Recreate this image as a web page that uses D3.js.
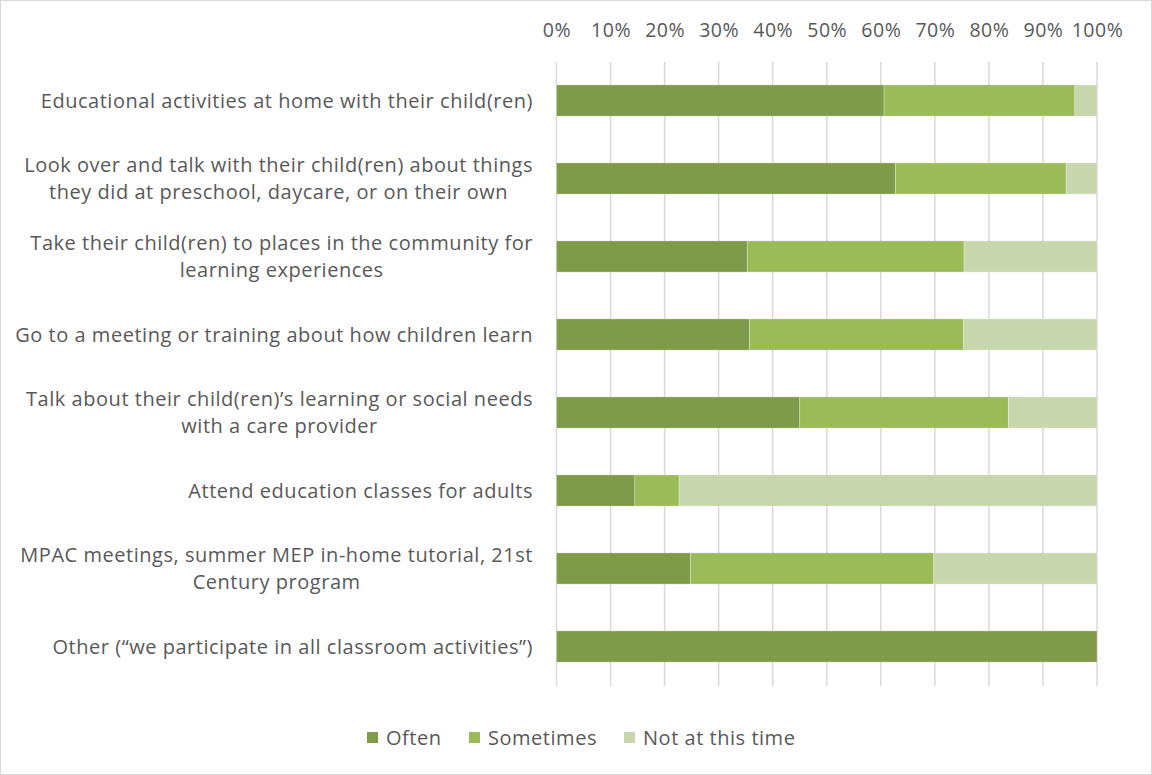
<!DOCTYPE html>
<html>
<head>
<meta charset="utf-8">
<script src="https://cdn.jsdelivr.net/npm/d3@7"></script>
<style>
  html, body { margin: 0; padding: 0; background: #fff; }
  svg text { font-family: "Open Sans", Lato, sans-serif; fill: #595959; letter-spacing: 0.53px; }
</style>
</head>
<body>
<svg id="chart" width="1152" height="775"></svg>
<script>
// Activity categories (each entry holds the label lines)
const categories = [
  ["Educational activities at home with their child(ren)"],
  ["Look over and talk with their child(ren) about things", "they did at preschool, daycare, or on their own"],
  ["Take their child(ren) to places in the community for", "learning experiences"],
  ["Go to a meeting or training about how children learn"],
  ["Talk about their child(ren)\u2019s learning or social needs", "with a care provider"],
  ["Attend education classes for adults"],
  ["MPAC meetings, summer MEP in-home tutorial, 21st", "Century program"],
  ["Other (\u201cwe participate in all classroom activities\u201d)"]
];

// Share of respondents (%) per response
const often     = [60.6, 62.7, 35.3, 35.7, 45.0, 14.5, 24.8, 100];
const sometimes = [35.3, 31.6, 40.1, 39.6, 38.6,  8.2, 45.0,   0];
const notNow    = [ 4.1,  5.7, 24.6, 24.7, 16.4, 77.3, 30.2,   0];

const seriesNames = ["Often", "Sometimes", "Not at this time"];
const tickValues = [0, 10, 20, 30, 40, 50, 60, 70, 80, 90, 100];
const colors = ["#7f9a48", "#9bbb59", "#c7d6ad"];

const svg = d3.select("#chart");

// Outer chart frame
svg.append("rect")
  .attr("x", 0.5).attr("y", 0.5)
  .attr("width", 1151).attr("height", 774)
  .attr("fill", "#fff").attr("stroke", "#d9d9d9");

const rows = categories.map((c, i) => ({
  key: i, lines: c,
  "Often": often[i], "Sometimes": sometimes[i], "Not at this time": notNow[i]
}));

const x = d3.scaleLinear().domain([0, 100]).range([556.5, 1097]);
const y = d3.scaleBand().domain(rows.map(r => r.key))
  .range([61.5, 685.5]).paddingInner(0.6).paddingOuter(0.3);

// Vertical gridlines
svg.append("g").selectAll("line").data(tickValues).join("line")
  .attr("x1", d => x(d)).attr("x2", d => x(d))
  .attr("y1", 62).attr("y2", 686)
  .attr("stroke", "#d9d9d9").attr("stroke-width", 1.5);

// Top percent axis
const axis = svg.append("g").attr("transform", "translate(0,37)")
  .call(d3.axisTop(x).tickValues(tickValues).tickFormat(d => d + "%").tickSize(0).tickPadding(0));
axis.select(".domain").remove();
axis.selectAll("text").style("font-size", "19.5px").style("fill", "#595959")
  .style("font-family", "'Open Sans', Lato, sans-serif").style("letter-spacing", "0.5px");

// Stacked bars
const stack = d3.stack().keys(seriesNames)(rows);
svg.append("g").selectAll("g").data(stack).join("g")
  .attr("fill", (d, i) => colors[i])
  .selectAll("rect").data(d => d).join("rect")
  .attr("x", d => x(d[0]))
  .attr("width", d => Math.max(0, x(d[1]) - x(d[0])))
  .attr("y", d => y(d.data.key))
  .attr("height", y.bandwidth())
  .attr("stroke", "#fff").attr("stroke-opacity", 0.35).attr("stroke-width", 0.8);

// Category labels: centered lines, block right-aligned to the plot
const labelRight = 533;
const lineH = 27;
const labels = svg.append("g");
rows.forEach(r => {
  const g = labels.append("g");
  const cy = y(r.key) + y.bandwidth() / 2;
  const n = r.lines.length;
  const texts = r.lines.map((t, j) => g.append("text")
    .attr("y", cy + (j - (n - 1) / 2) * lineH)
    .attr("dy", "0.35em")
    .attr("text-anchor", "middle")
    .style("font-size", "20px")
    .text(t));
  const maxW = d3.max(texts, t => t.node().getComputedTextLength());
  texts.forEach(t => t.attr("x", labelRight - maxW / 2));
});

// Legend
const legendItems = [
  { name: "Often", sx: 367 },
  { name: "Sometimes", sx: 469 },
  { name: "Not at this time", sx: 624 }
];
const leg = svg.append("g");
legendItems.forEach((it, i) => {
  leg.append("rect").attr("x", it.sx).attr("y", 732)
    .attr("width", 11).attr("height", 11).attr("fill", colors[i]);
  leg.append("text").attr("x", it.sx + 19).attr("y", 738).attr("dy", "0.35em")
    .style("font-size", "20px").text(it.name);
});
</script>
</body>
</html>
